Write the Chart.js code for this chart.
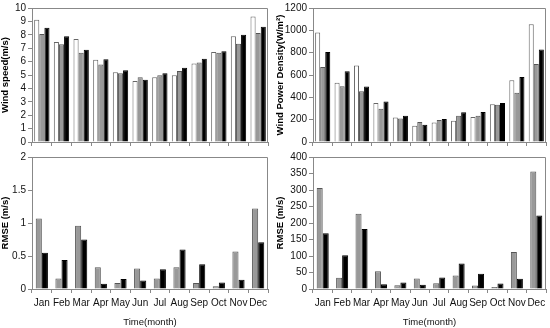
<!DOCTYPE html>
<html>
<head>
<meta charset="utf-8">
<script src="https://cdn.jsdelivr.net/npm/chart.js@4.4.0/dist/chart.umd.min.js"></script>
<style>
  body { margin: 0; background: #fff; }
  #wrap { position: relative; width: 550px; height: 328px; overflow: hidden; }
  canvas { position: absolute; }
</style>
</head>
<body>
<div id="wrap">
  <canvas id="c3" style="left:0;top:149px"></canvas>
  <canvas id="c4" style="left:275px;top:149px"></canvas>
  <canvas id="c1" style="left:0;top:0"></canvas>
  <canvas id="c2" style="left:275px;top:0"></canvas>
</div>
<script>
const months = ['Jan', 'Feb', 'Mar', 'Apr', 'May', 'Jun', 'Jul', 'Aug', 'Sep', 'Oct', 'Nov', 'Dec'];

// wind speed (m/s): measured (white), model A (gray), model B (black)
const speedObs = [9.13, 7.46, 7.68, 6.13, 5.21, 4.55, 4.84, 4.99, 5.86, 6.71, 7.89, 9.37];
const speedA = [8.06, 7.29, 6.66, 5.79, 5.13, 4.84, 4.99, 5.30, 5.93, 6.66, 7.34, 8.14];
const speedB = [8.52, 7.89, 6.88, 6.17, 5.35, 4.65, 5.13, 5.54, 6.22, 6.78, 8.01, 8.60];

// wind power density (W/m2)
const wpdObs = [981, 531, 686, 350, 219, 146, 175, 190, 225, 339, 552, 1054];
const wpdA = [672, 499, 455, 298, 210, 178, 196, 234, 236, 333, 441, 698];
const wpdB = [806, 634, 496, 362, 236, 155, 207, 266, 269, 350, 581, 829];

// RMSE of wind speed
const rmseSpeedA = [1.07, 0.16, 0.96, 0.33, 0.09, 0.31, 0.16, 0.33, 0.09, 0.04, 0.57, 1.22];
const rmseSpeedB = [0.55, 0.44, 0.75, 0.08, 0.15, 0.13, 0.30, 0.60, 0.375, 0.10, 0.14, 0.71];

// RMSE of wind power density
const rmseWpdA = [306, 34, 228, 54, 11.6, 32, 17.4, 40.7, 10.7, 5.8, 112, 356];
const rmseWpdB = [169, 102, 182, 14.5, 20, 12.6, 35, 77.5, 46.5, 16.5, 31, 223];

const FONT = 'Liberation Sans, Arial, sans-serif';
const AXIS = '#888';

const framePlugin = {
    id: 'frame',
    afterDraw(chart) {
        const a = chart.chartArea;
        const ctx = chart.ctx;
        ctx.save();
        ctx.strokeStyle = AXIS;
        ctx.lineWidth = 1;
        ctx.beginPath();
        ctx.moveTo(a.left, a.top + 0.5);
        ctx.lineTo(a.right - 0.5, a.top + 0.5);
        ctx.lineTo(a.right - 0.5, a.bottom);
        ctx.stroke();
        ctx.restore();
    }
};

function bars(data, kind) {
    let fill = '#000', border = '#000';
    if (kind == 'white') { fill = '#fff'; border = '#666'; }
    if (kind == 'gray') { fill = '#999'; border = '#555'; }
    return {
        data: data,
        backgroundColor: fill,
        borderColor: border,
        borderWidth: 1
    };
}

function makeChart(id, w, h, datasets, o) {
    const cv = document.getElementById(id);
    cv.width = w;
    cv.height = h;
    return new Chart(cv, {
        type: 'bar',
        data: { labels: months, datasets: datasets },
        options: {
            responsive: false,
            animation: false,
            datasets: { bar: { categoryPercentage: o.cat, barPercentage: 1 } },
            layout: { padding: { top: o.top, right: o.right, left: 0, bottom: 0 } },
            plugins: { legend: { display: false }, tooltip: { enabled: false } },
            scales: {
                x: {
                    grid: { drawOnChartArea: false, tickLength: 4, color: AXIS, offset: true },
                    border: { color: AXIS },
                    ticks: {
                        display: o.showX,
                        color: '#111',
                        padding: 4,
                        maxRotation: 0,
                        autoSkip: false,
                        font: { family: FONT, size: 10 }
                    },
                    title: {
                        display: o.showX,
                        text: 'Time(month)',
                        color: '#111',
                        padding: { top: 1, bottom: 0 },
                        font: { family: FONT, size: 9.5 }
                    },
                    afterFit: function (s) { s.height = o.xh; }
                },
                y: {
                    min: 0,
                    max: o.max,
                    grid: { drawOnChartArea: false, tickLength: 4, color: AXIS },
                    border: { color: AXIS },
                    ticks: {
                        stepSize: o.step,
                        autoSkip: false,
                        color: '#111',
                        padding: 2,
                        font: { family: FONT, size: 10 },
                        callback: function (value) { return String(value); }
                    },
                    title: {
                        display: true,
                        text: o.title,
                        color: '#000',
                        padding: { top: 0, bottom: 0 },
                        font: { family: FONT, size: 9.5, weight: 'bold' }
                    },
                    afterFit: function (s) { s.width = o.yw; }
                }
            }
        },
        plugins: [framePlugin]
    });
}

makeChart('c1', 275, 150, [bars(speedObs, 'white'), bars(speedA, 'gray'), bars(speedB, 'black')],
    { cat: 0.78, top: 7, right: 7, xh: 6, yw: 32, max: 10, step: 1, title: 'Wind speed(m/s)', showX: false });

makeChart('c2', 275, 150, [bars(wpdObs, 'white'), bars(wpdA, 'gray'), bars(wpdB, 'black')],
    { cat: 0.78, top: 7, right: 4, xh: 6, yw: 38, max: 1200, step: 200, title: 'Wind Power Density(W/m\u00b2)', showX: false });

makeChart('c3', 275, 179, [bars(rmseSpeedA, 'gray'), bars(rmseSpeedB, 'black')],
    { cat: 0.62, top: 3, right: 7, xh: 39, yw: 32, max: 2, step: 0.5, title: 'RMSE (m/s)', showX: true });

makeChart('c4', 275, 179, [bars(rmseWpdA, 'gray'), bars(rmseWpdB, 'black')],
    { cat: 0.62, top: 3, right: 4, xh: 39, yw: 38, max: 400, step: 50, title: 'RMSE (m/s)', showX: true });
</script>
</body>
</html>
